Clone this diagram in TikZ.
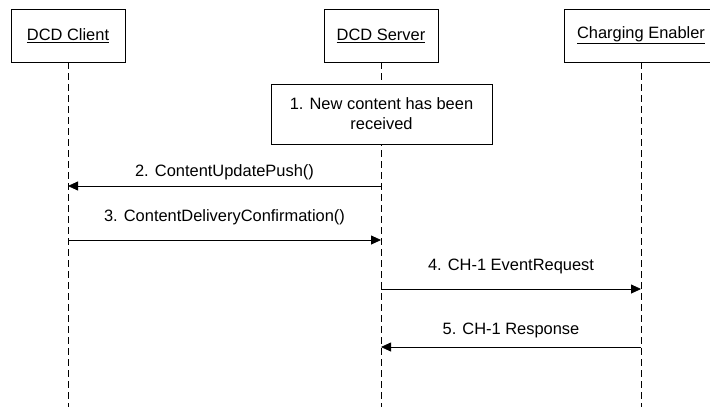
\documentclass[tikz,border=0pt]{standalone}
\usepackage{fontspec}
\setmainfont{Liberation Sans}
\usetikzlibrary{positioning,arrows.meta}

\begin{document}
\begin{tikzpicture}[x=1bp, y=-1bp,
    actor/.style={draw, line width=0.8bp, minimum height=53bp, inner sep=0pt,
                  font=\fontsize{16.5}{20}\selectfont},
    note/.style={draw, fill=white, line width=1bp, minimum width=221bp, minimum height=60bp,
                 align=center, inner sep=0pt, font=\fontsize{16.5}{20}\selectfont},
    lifeline/.style={line width=0.8bp, dash pattern=on 7bp off 4bp},
    msg/.style={line width=0.8bp, -{Triangle[length=10bp, width=9bp]}},
    lbl/.style={font=\fontsize{16.5}{20}\selectfont}]

    \useasboundingbox (0,0) rectangle (710,407);

    % participants
    \node [actor, minimum width=114bp] (client) at (68, 35.5) {\underline{DCD Client}};
    \node [actor, minimum width=114bp] (server) at (381, 35.5) {\underline{DCD Server}};
    \node [actor, minimum width=154bp] (enabler) at (641, 35.5) {\underline{Charging Enabler}};

    % lifelines
    \coordinate (clientEnd) at (68, 407);
    \coordinate (serverEnd) at (381, 407);
    \coordinate (enablerEnd) at (641, 407);
    \draw [lifeline] (client.south) -- (clientEnd);
    \draw [lifeline] (server.south) -- (serverEnd);
    \draw [lifeline] (enabler.south) -- (enablerEnd);

    \node [note] (received) at (381.5, 114) {1. New content has been\\received};

    % messages
    \coordinate (m2) at (0, 186);
    \coordinate (m3) at (0, 240);
    \coordinate (m4) at (0, 289);
    \coordinate (m5) at (0, 347);

    \draw [msg] (server |- m2) -- (client |- m2)
        node [lbl, midway, yshift=14bp] {2. ContentUpdatePush()};
    \draw [msg] (client |- m3) -- (server |- m3)
        node [lbl, midway, yshift=23bp] {3. ContentDeliveryConfirmation()};
    \draw [msg] (server |- m4) -- (enabler |- m4)
        node [lbl, midway, yshift=23bp] {4. CH-1 EventRequest};
    \draw [msg] (enabler |- m5) -- (server |- m5)
        node [lbl, midway, yshift=17bp] {5. CH-1 Response};
\end{tikzpicture}
\end{document}
